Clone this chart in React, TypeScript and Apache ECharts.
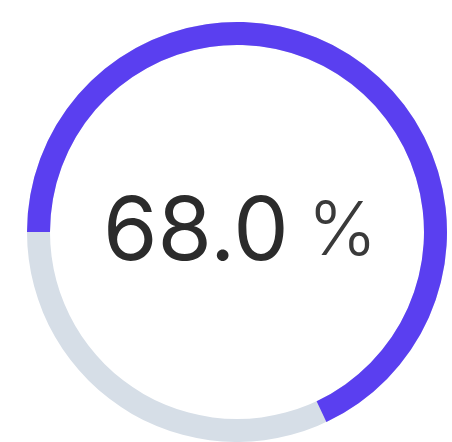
import React, { useEffect, useRef } from "react";
import * as echarts from "echarts";

const gaugeMin = 0;
const gaugeMax = 100;
const gaugeValue = [68.0];
const unitLabel = "%";

export default function App() {
  const ref = useRef<HTMLDivElement>(null);
  useEffect(() => {
    document.body.style.margin = "0";
    const chart = echarts.init(ref.current!, null, { renderer: "svg" });
    chart.setOption({
      animation: false,
      backgroundColor: "#ffffff",
      series: [
        {
          type: "gauge",
          center: [237, 232],
          radius: 210,
          startAngle: 180,
          endAngle: -180,
          min: gaugeMin,
          max: gaugeMax,
          progress: { show: true, width: 23, roundCap: false, itemStyle: { color: "#5a3ff0" } },
          axisLine: { roundCap: false, lineStyle: { width: 23, color: [[1, "#d6dee7"]] } },
          pointer: { show: false },
          axisTick: { show: false },
          splitLine: { show: false },
          axisLabel: { show: false },
          title: { show: false },
          anchor: { show: false },
          detail: {
            valueAnimation: false,
            offsetCenter: [3, -4],
            formatter: (v: number) => `{a|${v.toFixed(1)}}{b|${unitLabel}}`,
            rich: {
              a: { fontSize: 88, fontFamily: "Inter", fontWeight: 400, color: "#2b2b2b" },
              b: { fontSize: 74, fontFamily: "Inter", fontWeight: 300, color: "#3a3a3a", padding: [0, 0, 0, 19] },
            },
          },
          data: gaugeValue.map((v) => ({ value: v })),
        },
      ],
    });
    return () => chart.dispose();
  }, []);
  return <div ref={ref} style={{ position: "fixed", left: 0, top: 0, width: 452, height: 442 }} />;
}
